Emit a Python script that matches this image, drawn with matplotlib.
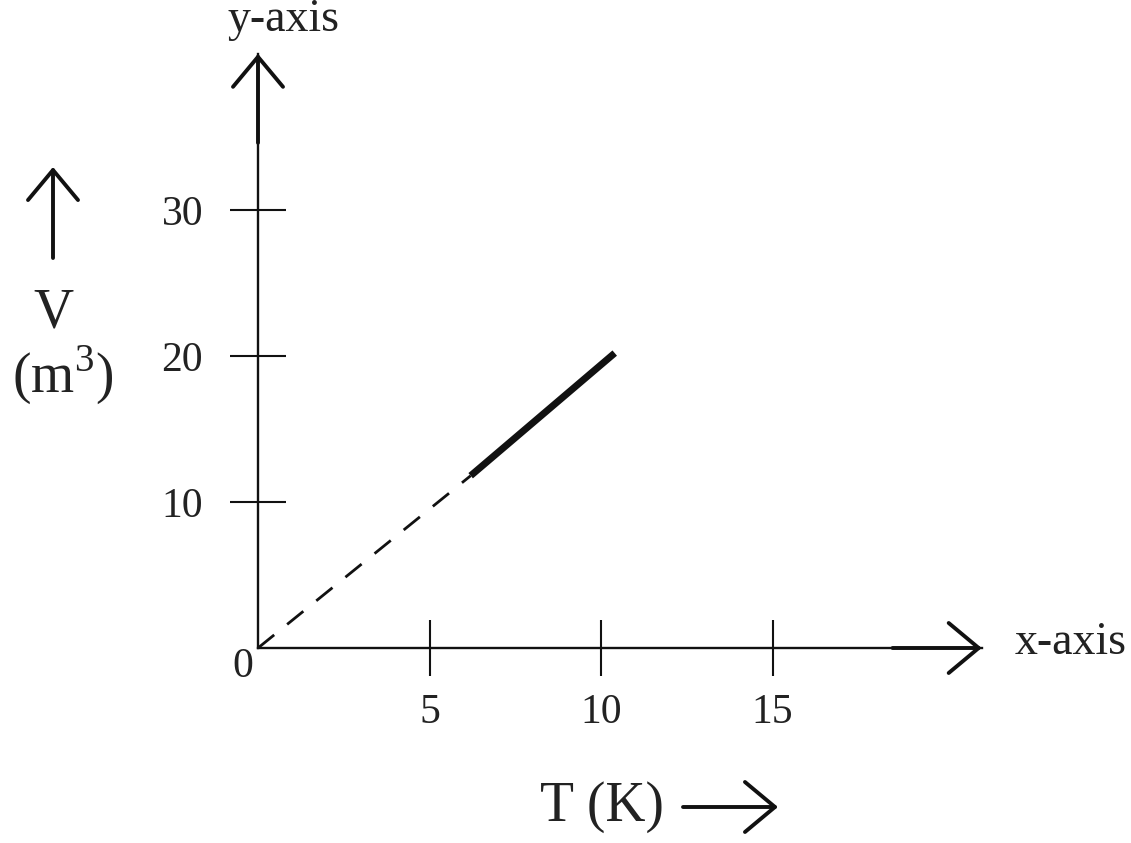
import matplotlib
matplotlib.use("Agg")
import matplotlib.pyplot as plt

plt.rcParams['font.family'] = ['Liberation Serif', 'DejaVu Serif']
plt.rcParams['mathtext.fontset'] = 'custom'
plt.rcParams['mathtext.rm'] = 'Liberation Serif'

# V = f(T) data
T_dashed = [0, 6.2]
V_dashed = [0, 11.8]
T_solid = [6.2, 10.4]
V_solid = [11.8, 20.2]

x_ticks = [5, 10, 15]
y_ticks = [10, 20, 30]

W, H = 1131, 843
fig = plt.figure(figsize=(W / 100, H / 100), dpi=100)
ax = fig.add_axes([0, 0, 1, 1])

# scale: pixels per unit along each axis, origin at (258, 648) px
px_x, px_y = 34.3, 14.6
ox, oy = 258, 648
ax.set_xlim(-ox / px_x, (W - ox) / px_x)
ax.set_ylim(-(H - oy) / px_y, oy / px_y)

x_end, y_end = 21.1, 40.7
ink = '#111111'
txt = '#222222'

for s in ['top', 'right']:
    ax.spines[s].set_visible(False)
ax.spines['left'].set_position(('data', 0))
ax.spines['bottom'].set_position(('data', 0))
ax.spines['left'].set_bounds(0, y_end)
ax.spines['bottom'].set_bounds(0, x_end)
for s in ['left', 'bottom']:
    ax.spines[s].set_linewidth(1.7)
    ax.spines[s].set_color(ink)

ax.set_xticks(x_ticks)
ax.set_yticks(y_ticks)
ax.tick_params(direction='inout', length=41, width=1.5, color=ink,
               labelsize=30, labelcolor=txt)
ax.tick_params(axis='y', pad=19)
ax.tick_params(axis='x', pad=12)
ax.patch.set_visible(False)

ax.text(-0.45, -1.3, '0', fontsize=30, color=txt, ha='center', va='center')

# the graph
ax.plot(T_dashed, V_dashed, color=ink, lw=2.0, dashes=(7.5, 6))
ax.plot(T_solid, V_solid, color=ink, lw=5, solid_capstyle='butt')

head = '->,head_length=0.72,head_width=0.6'
arrow = dict(arrowstyle=head, lw=2.8, color=ink, mutation_scale=30,
             shrinkA=0, shrinkB=0)

# axis arrow heads
ax.annotate('', xy=(0, y_end), xytext=(0, 34.6), arrowprops=arrow)
ax.annotate('', xy=(x_end, 0), xytext=(18.5, 0), arrowprops=arrow)

def fx(p):
    return p / W

def fy(p):
    return 1 - p / H

fig.text(fx(283), fy(20), 'y-axis', fontsize=33, color=txt, ha='center', va='center')
fig.text(fx(1015), fy(643), 'x-axis', fontsize=33, color=txt, ha='left', va='center')

# V label with arrow
ax.annotate('', xy=(fx(53), fy(167)), xytext=(fx(53), fy(258)),
            xycoords='figure fraction', textcoords='figure fraction', arrowprops=arrow)
fig.text(fx(53), fy(313), 'V', fontsize=40, color=txt, ha='center', va='center')
fig.text(fx(63), fy(375), r'(m$^3$)', fontsize=40, color=txt, ha='center', va='center')

# T label with arrow
fig.text(fx(540), fy(807), 'T (K)', fontsize=40, color=txt, ha='left', va='center')
ax.annotate('', xy=(fx(778), fy(807)), xytext=(fx(683), fy(807)),
            xycoords='figure fraction', textcoords='figure fraction', arrowprops=arrow)

fig.savefig('out.png', dpi=100)
